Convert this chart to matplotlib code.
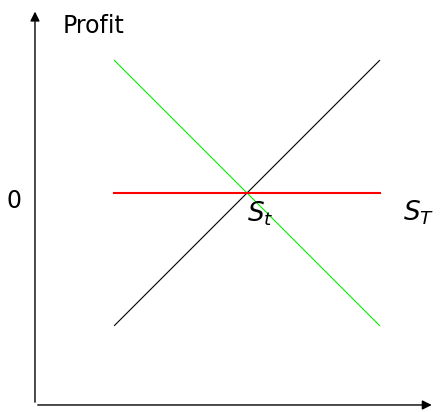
import matplotlib
matplotlib.use("Agg")
import matplotlib.pyplot as plt

plt.rcParams['mathtext.fontset'] = 'dejavusans'

# payoff lines at expiry, strike in the middle
s_range = [1.2, 5.2]
long_profit = [-2, 2]
short_profit = [2, -2]
zero_profit = [0, 0]
s_t = 3.2

fig = plt.figure(figsize=(4.42, 4.12), dpi=100)
ax = fig.add_axes([0, 0, 1, 1])
ax.set_xlim(-0.528, 6.143)
ax.set_ylim(-3.306, 2.913)
ax.axis('off')

# axes with arrows
ax.annotate('', xy=(0, 2.78), xytext=(0, -3.2),
            arrowprops=dict(arrowstyle='-|>', color='black', lw=1.0, mutation_scale=14))
ax.annotate('', xy=(6.03, -3.2), xytext=(0, -3.2),
            arrowprops=dict(arrowstyle='-|>', color='black', lw=1.0, mutation_scale=14))

ax.plot(s_range, long_profit, color='black', lw=0.8)
ax.plot(s_range, short_profit, color='#00ee00', lw=0.8)
ax.plot(s_range, zero_profit, color='red', lw=1.5)

ax.text(0.42, 2.52, 'Profit', fontsize=17, va='center', ha='left')
ax.text(-0.32, -0.12, '0', fontsize=17, va='center', ha='center')
ax.text(s_t + 0.0, -0.32, '$S_t$', fontsize=19, va='center', ha='left')
ax.text(5.55, -0.3, '$S_T$', fontsize=19, va='center', ha='left')

fig.savefig('out.png', dpi=100)
